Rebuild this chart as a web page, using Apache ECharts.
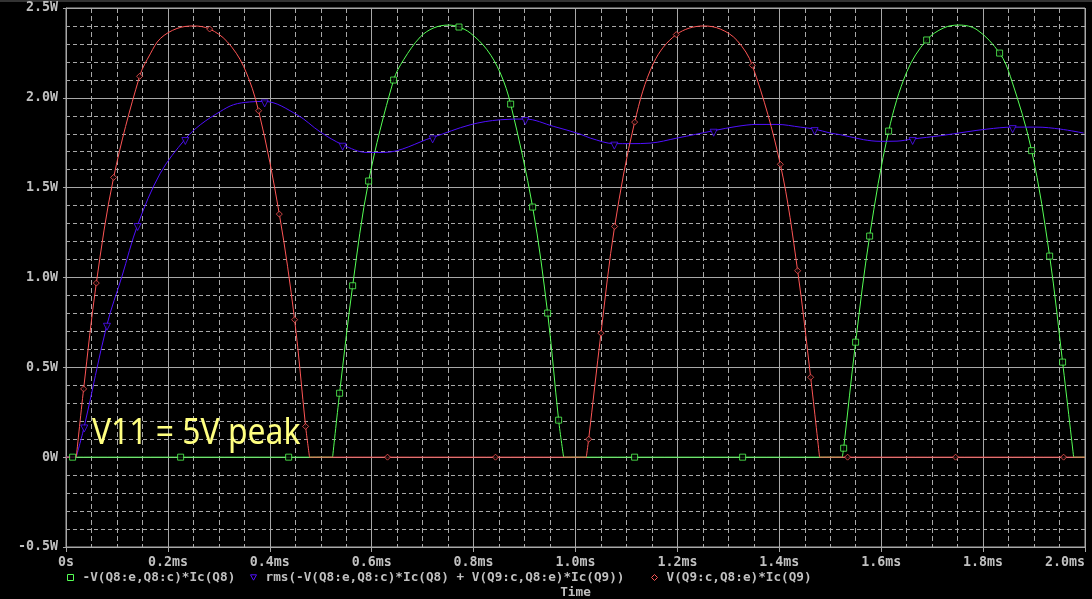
<!DOCTYPE html>
<html>
<head>
<meta charset="utf-8">
<script src="https://cdn.jsdelivr.net/npm/echarts@6/dist/echarts.min.js"></script>
<style>
html,body{margin:0;padding:0;background:#000;}
#chart{width:1092px;height:599px;}
</style>
</head>
<body>
<div id="chart"></div>
<script>
// ---- tick labels ----
const xTickValues = [0, 0.2, 0.4, 0.6, 0.8, 1.0, 1.2, 1.4, 1.6, 1.8, 2.0];
const xTickLabels = ['0s', '0.2ms', '0.4ms', '0.6ms', '0.8ms', '1.0ms', '1.2ms', '1.4ms', '1.6ms', '1.8ms', '2.0ms'];
const yTickValues = [-0.5, 0, 0.5, 1.0, 1.5, 2.0, 2.5];
const yTickLabels = ['-0.5W', '0W', '0.5W', '1.0W', '1.5W', '2.0W', '2.5W'];

// ---- series names ----
const nameGreen = '-V(Q8:e,Q8:c)*Ic(Q8)';
const nameBlue = 'rms(-V(Q8:e,Q8:c)*Ic(Q8) + V(Q9:c,Q8:e)*Ic(Q9))';
const nameRed = 'V(Q9:c,Q8:e)*Ic(Q9)';
const xTitle = 'Time';
const noteText = 'V11 = 5V peak';

// ---- trace: -V(Q8:e,Q8:c)*Ic(Q8) (ms, W) ----
const greenT = [0, 0.5233, 0.537, 0.5626, 0.594, 0.643, 0.6627, 0.6954, 0.7216, 0.751, 0.7713, 0.7935, 0.8262, 0.8524, 0.8727, 0.9159, 0.9453, 0.9669, 0.9767, 1.5237, 1.5263, 1.5498, 1.5773, 1.6146, 1.6506, 1.6892, 1.7225, 1.752, 1.788, 1.8324, 1.8534, 1.8953, 1.9306, 1.956, 1.9777, 2.0];
const greenP = [0, 0, 0.356, 0.954, 1.537, 2.099, 2.212, 2.339, 2.389, 2.405, 2.394, 2.361, 2.268, 2.138, 1.965, 1.392, 0.802, 0.206, 0, 0, 0.05, 0.640, 1.2305, 1.815, 2.147, 2.322, 2.389, 2.405, 2.379, 2.249, 2.12, 1.706, 1.119, 0.529, 0, 0];
// marker positions
const greenMarkT = [0.013, 0.225, 0.437, 0.537, 0.5626, 0.594, 0.643, 0.7713, 0.8727, 0.9159, 0.9453, 0.9669, 1.116, 1.328, 1.5263, 1.5498, 1.5773, 1.6146, 1.6892, 1.8324, 1.8953, 1.9306, 1.956];
const greenMarkP = [0, 0, 0, 0.356, 0.954, 1.537, 2.099, 2.394, 1.965, 1.392, 0.802, 0.206, 0, 0, 0.05, 0.640, 1.2305, 1.815, 2.322, 2.249, 1.706, 1.119, 0.529];

// ---- trace: rms(...) ----
const blueT = [0, 0.02, 0.0359, 0.0804, 0.1098, 0.1406, 0.185, 0.2342, 0.2636, 0.3029, 0.329, 0.36, 0.3899, 0.4534, 0.4991, 0.543, 0.5907, 0.6234, 0.7196, 0.7935, 0.8524, 0.9015, 0.957, 1.0094, 1.029, 1.0762, 1.1076, 1.1468, 1.1992, 1.2711, 1.3169, 1.3562, 1.3954, 1.4412, 1.4693, 1.5001, 1.5197, 1.5655, 1.5982, 1.631, 1.6617, 1.716, 1.7684, 1.8076, 1.858, 1.9058, 1.9515, 1.9973];
const blueP = [0, 0, 0.171, 0.737, 1.006, 1.292, 1.58, 1.771, 1.85, 1.924, 1.962, 1.977, 1.980, 1.906, 1.81, 1.739, 1.696, 1.696, 1.780, 1.850, 1.878, 1.882, 1.841, 1.798, 1.776, 1.745, 1.745, 1.748, 1.776, 1.817, 1.841, 1.852, 1.852, 1.837, 1.826, 1.804, 1.795, 1.767, 1.758, 1.759, 1.771, 1.789, 1.811, 1.826, 1.837, 1.837, 1.826, 1.804];
const blueMarkT = [0.0359, 0.0804, 0.1406, 0.2342, 0.3899, 0.543, 0.7196, 0.9015, 1.0762, 1.2711, 1.4693, 1.6617, 1.858];
const blueMarkP = [0.171, 0.737, 1.292, 1.771, 1.980, 1.739, 1.780, 1.882, 1.745, 1.817, 1.826, 1.771, 1.837];

// ---- trace: V(Q9:c,Q8:e)*Ic(Q9) ----
const redT = [0, 0.0202, 0.0346, 0.0595, 0.0935, 0.1445, 0.1655, 0.1851, 0.2178, 0.2505, 0.282, 0.3159, 0.3486, 0.378, 0.4187, 0.4487, 0.4703, 0.478, 1.0212, 1.0258, 1.050, 1.0768, 1.1161, 1.1533, 1.1978, 1.2514, 1.2842, 1.3169, 1.347, 1.402, 1.436, 1.4615, 1.479, 2.0];
const redP = [0, 0, 0.38, 0.969, 1.557, 2.12, 2.245, 2.33, 2.386, 2.40, 2.383, 2.314, 2.175, 1.928, 1.353, 0.765, 0.171, 0, 0, 0.10, 0.69, 1.284, 1.865, 2.194, 2.352, 2.40, 2.383, 2.32, 2.181, 1.63, 1.0375, 0.445, 0, 0];
const redMarkT = [0.0346, 0.0595, 0.0935, 0.1445, 0.282, 0.378, 0.4187, 0.4487, 0.4703, 0.631, 0.843, 1.0258, 1.050, 1.0768, 1.1161, 1.1978, 1.347, 1.402, 1.436, 1.4615, 1.534, 1.746, 1.958];
const redMarkP = [0.38, 0.969, 1.557, 2.12, 2.383, 1.928, 1.353, 0.765, 0.171, 0, 0, 0.10, 0.69, 1.284, 1.865, 2.352, 2.181, 1.63, 1.0375, 0.445, 0, 0, 0];

// ---- styles ----
const GREEN = '#55ff55';
const BLUE = '#5010ff';
const RED = '#ff5555';
const GRID = '#a8a8a8';
const TXT = '#c0c0c0';
const MONO = '"DejaVu Sans Mono", "Liberation Mono", monospace';

function zip(a, b) { return a.map((v, i) => [v, b[i]]); }
// keep the sharp corner where a trace leaves / returns to the zero line:
// the line is broken there so each smoothed piece keeps its own corner.
function withCorners(a, b) {
  const out = [];
  for (let i = 0; i < a.length; i++) {
    out.push([a[i], b[i]]);
    const prevZero = i > 0 && b[i - 1] === 0;
    const nextZero = i < a.length - 1 && b[i + 1] === 0;
    if (b[i] === 0 && i > 0 && i < a.length - 1 && prevZero !== nextZero) {
      out.push([a[i], '-']);
      out.push([a[i], b[i]]);
    }
  }
  return out;
}
function labelFor(vals, labels) {
  return function (v) {
    for (let i = 0; i < vals.length; i++) if (Math.abs(vals[i] - v) < 1e-9) return labels[i];
    return '';
  };
}

const chart = echarts.init(document.getElementById('chart'), null, { renderer: 'canvas' });

function lineSeries(name, data, color, z) {
  return {
    name: name, type: 'line', data: data, showSymbol: false, symbol: 'none',
    smooth: 0.35, connectNulls: false,
    lineStyle: { color: color, width: 1 }, itemStyle: { color: color },
    z: z, silent: true, animation: false
  };
}
function markSeries(name, data, color, symbol, size, z, rotate, offset) {
  return {
    name: name, type: 'scatter', data: data, symbol: symbol, symbolSize: size,
    symbolRotate: rotate || 0, symbolOffset: offset || [0, 0],
    itemStyle: { color: '#000', borderColor: color, borderWidth: 1 },
    z: z, silent: true, animation: false
  };
}
const legendText = { color: TXT, fontFamily: MONO, fontSize: 12.7, fontWeight: 'bold', padding: [0, 0, 0, 4] };
function legendAt(left, item) {
  return { left: left, top: 571, padding: 0, itemWidth: 6, itemHeight: 6, selectedMode: false, textStyle: legendText, data: [item] };
}

const option = {
  backgroundColor: '#000',
  animation: false,
  grid: { left: 66, right: 7, top: 8, bottom: 52, show: true, borderColor: GRID, borderWidth: 1, backgroundColor: 'transparent', containLabel: false, outerBoundsMode: 'none' },
  xAxis: {
    type: 'value', min: 0, max: 2.0, interval: 0.2,
    name: xTitle, nameLocation: 'middle', nameGap: 39,
    nameTextStyle: { color: TXT, fontFamily: MONO, fontSize: 12.7, fontWeight: 'bold' },
    axisLine: { show: true, onZero: false, lineStyle: { color: GRID, width: 1 } },
    axisTick: { show: true, length: 5, lineStyle: { color: GRID } },
    minorTick: { show: false, splitNumber: 4 },
    minorSplitLine: { show: true, lineStyle: { color: GRID, type: [5, 3], width: 1 } },
    splitLine: { show: true, lineStyle: { color: GRID, width: 1 } },
    axisLabel: {
      color: TXT, fontFamily: MONO, fontSize: 13.3, fontWeight: 'bold', margin: 9,
      formatter: labelFor(xTickValues, xTickLabels), alignMaxLabel: 'right'
    }
  },
  yAxis: {
    type: 'value', min: -0.5, max: 2.5, interval: 0.5,
    axisLine: { show: true, onZero: false, lineStyle: { color: GRID, width: 1 } },
    axisTick: { show: true, length: 3, lineStyle: { color: GRID } },
    minorTick: { show: false, splitNumber: 5 },
    minorSplitLine: { show: true, lineStyle: { color: GRID, type: [4, 3], width: 1 } },
    splitLine: { show: true, lineStyle: { color: GRID, width: 1 } },
    axisLabel: {
      color: TXT, fontFamily: MONO, fontSize: 13.3, fontWeight: 'bold', margin: 8,
      formatter: labelFor(yTickValues, yTickLabels)
    }
  },
  legend: [
    legendAt(67, { name: nameGreen, icon: 'rect', itemStyle: { color: '#000', borderColor: GREEN, borderWidth: 1 } }),
    legendAt(250, { name: nameBlue, icon: 'path://M0,0L10,0L5,9Z', itemStyle: { color: '#000', borderColor: BLUE, borderWidth: 1 } }),
    legendAt(651, { name: nameRed, icon: 'diamond', itemStyle: { color: '#000', borderColor: RED, borderWidth: 1 } })
  ],
  graphic: [
    { type: 'rect', left: 0, top: 0, shape: { width: 1092, height: 2 }, style: { fill: '#333' }, silent: true },
    {
      type: 'text', x: 92, y: 434, scaleX: 0.885, scaleY: 1, silent: true, z: 100,
      style: { text: noteText, font: '36px "Noto Sans"', fill: '#ffff80', verticalAlign: 'middle', align: 'left' }
    }
  ],
  series: [
    lineSeries(nameGreen, withCorners(greenT, greenP), GREEN, 2),
    lineSeries(nameBlue, withCorners(blueT, blueP), BLUE, 3),
    lineSeries(nameRed, withCorners(redT, redP), RED, 4),
    markSeries(nameGreen, zip(greenMarkT, greenMarkP), GREEN, 'rect', 6, 5),
    markSeries(nameBlue, zip(blueMarkT, blueMarkP), BLUE, 'triangle', 7, 5, 180, [0, 2]),
    markSeries(nameRed, zip(redMarkT, redMarkP), RED, 'diamond', 6, 6)
  ]
};
chart.setOption(option);
</script>
</body>
</html>
